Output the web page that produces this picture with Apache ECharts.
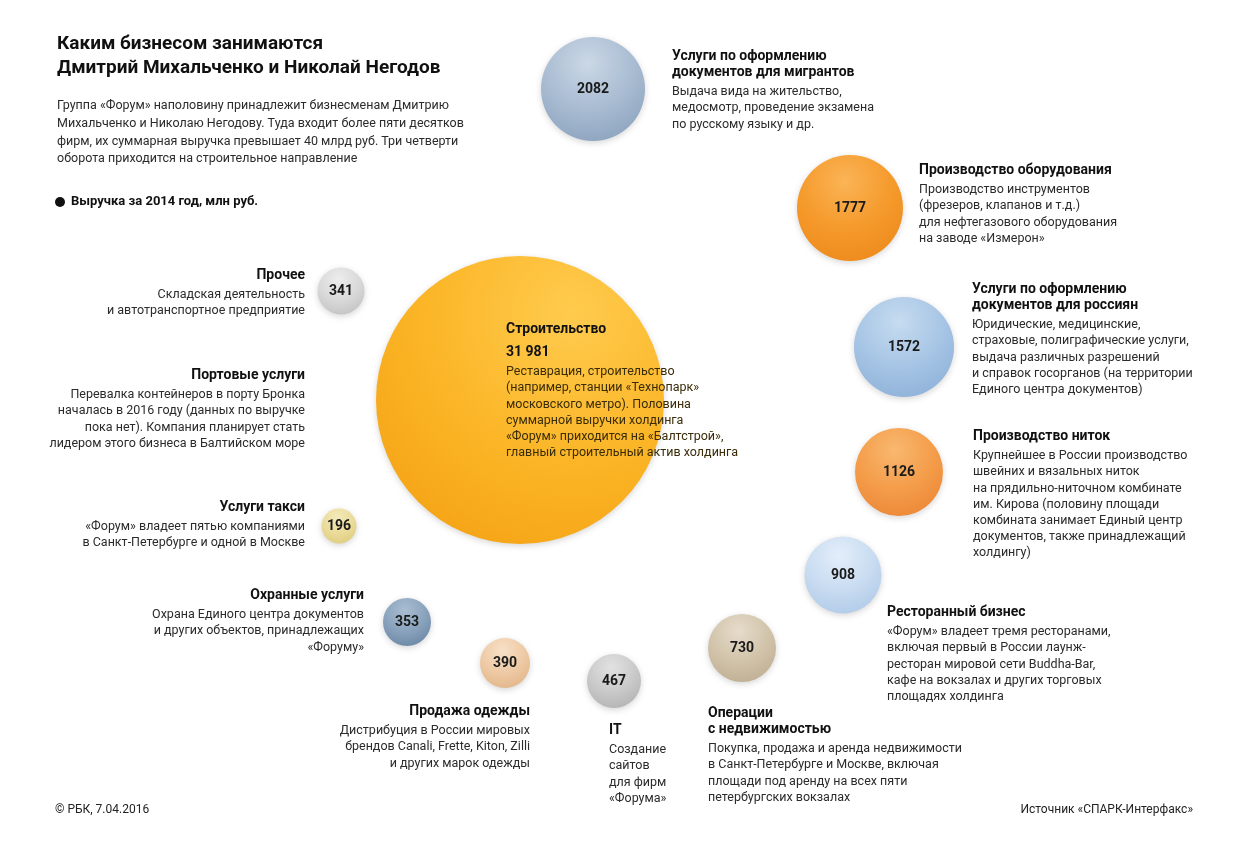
<!DOCTYPE html>
<html><head><meta charset="utf-8">
<script src="https://cdn.jsdelivr.net/npm/echarts@6/dist/echarts.min.js"></script>
<style>html,body{margin:0;padding:0;background:#fff}#c{width:1250px;height:850px}</style>
</head><body><div id="c"></div>
<script>
// ---------- DATA ----------
const categories = ['Строительство','Услуги по оформлению документов для мигрантов','Производство оборудования','Услуги по оформлению документов для россиян','Производство ниток','Ресторанный бизнес','Операции с недвижимостью','IT','Продажа одежды','Охранные услуги','Услуги такси','Прочее'];
const revenue = [31981, 2082, 1777, 1572, 1126, 908, 730, 467, 390, 353, 196, 341];
const headings = [
  ['Строительство'],
  ['Услуги по оформлению','документов для мигрантов'],
  ['Производство оборудования'],
  ['Услуги по оформлению','документов для россиян'],
  ['Производство ниток'],
  ['Ресторанный бизнес'],
  ['Операции','с недвижимостью'],
  ['IT'],
  ['Продажа одежды'],
  ['Охранные услуги'],
  ['Услуги такси'],
  ['Прочее']
];
const descriptions = [
  ['Реставрация, строительство','(например, станции «Технопарк»','московского метро). Половина','суммарной выручки холдинга','«Форум» приходится на «Балтстрой»,','главный строительный актив холдинга'],
  ['Выдача вида на жительство,','медосмотр, проведение экзамена','по русскому языку и др.'],
  ['Производство инструментов','(фрезеров, клапанов и т.д.)','для нефтегазового оборудования','на заводе «Измерон»'],
  ['Юридические, медицинские,','страховые, полиграфические услуги,','выдача различных разрешений','и справок госорганов (на территории','Единого центра документов)'],
  ['Крупнейшее в России производство','швейних и вязальных ниток','на прядильно-ниточном комбинате','им. Кирова (половину площади','комбината занимает Единый центр','документов, также принадлежащий','холдингу)'],
  ['«Форум» владеет тремя ресторанами,','включая первый в России лаунж-','ресторан мировой сети Buddha-Bar,','кафе на вокзалах и других торговых','площадях холдинга'],
  ['Покупка, продажа и аренда недвижимости','в Санкт-Петербурге и Москве, включая','площади под аренду на всех пяти','петербургских вокзалах'],
  ['Создание','сайтов','для фирм','«Форума»'],
  ['Дистрибуция в России мировых','брендов Canali, Frette, Kiton, Zilli','и других марок одежды'],
  ['Охрана Единого центра документов','и других объектов, принадлежащих','«Форуму»'],
  ['«Форум» владеет пятью компаниями','в Санкт-Петербурге и одной в Москве'],
  ['Складская деятельность','и автотранспортное предприятие']
];
const extraHeading = ['Портовые услуги'];
const extraDescription = ['Перевалка контейнеров в порту Бронка','началась в 2016 году (данных по выручке','пока нет). Компания планирует стать','лидером этого бизнеса в Балтийском море'];
const titleLines = ['Каким бизнесом занимаются','Дмитрий Михальченко и Николай Негодов'];
const subtitleLines = ['Группа «Форум» наполовину принадлежит бизнесменам Дмитрию','Михальченко и Николаю Негодову. Туда входит более пяти десятков','фирм, их суммарная выручка превышает 40 млрд руб. Три четверти','оборота приходится на строительное направление'];
const legendText = 'Выручка за 2014 год, млн руб.';
const footerLeft = '© РБК, 7.04.2016';
const footerRight = 'Источник «СПАРК-Интерфакс»';

// ---------- LAYOUT ----------
const bubbleX = [520, 593, 850, 904, 899, 843, 742, 614, 505, 407, 339, 341];
const bubbleY = [400, 89, 208, 347, 472, 575, 648, 681, 663, 622, 526, 291];
const bubbleSize = [288, 104, 106, 100, 88, 77, 68, 54, 50, 48, 35, 47];
const blockX = [506, 672, 919, 972, 973, 887, 708, 609, 530, 364, 305, 305];
const blockY = [329, 56, 170, 289, 436, 612, 713, 730, 711, 595, 507, 275];
const blockAlign = ['left','left','left','left','left','left','left','left','right','right','right','right'];
const extraPos = [305, 375];

// ---------- STYLES ----------
const bubbleColors = [
  ['#ffcb4e','#fbb526','#f4a214'],
  ['#cbd8e6','#a9bcd2','#8da4bf'],
  ['#fbb456','#f59a2c','#ee8a1c'],
  ['#c6dcf0','#a7c5e5','#8fb2d9'],
  ['#f9b870','#f49d4a','#ec8838'],
  ['#e3eefa','#c9dcf1','#b0cbe8'],
  ['#e6dccb','#d2c4ab','#bfae92'],
  ['#e2e2e2','#cacaca','#b3b3b3'],
  ['#f7e0c8','#eecaa5','#e2b68a'],
  ['#a9bdd1','#8aa3bd','#6c88a6'],
  ['#f3eabb','#ebdc9b','#dfcc7f'],
  ['#ededed','#d9d9d9','#c3c3c3']
];
const gradCenter = [[0.68,0.2,0.95]];
const FONT = 'Roboto, "Noto Sans", sans-serif';
const headFont = 'bold 14px ' + FONT;
const bodyFont = '12.5px ' + FONT;

function grad(c, i){
  const g = gradCenter[i] || [0.45,0.25,0.8];
  return {type:'radial', x:g[0], y:g[1], r:g[2], colorStops:[
    {offset:0, color:c[0]},{offset:0.55, color:c[1]},{offset:1, color:c[2]}]};
}

const seriesData = revenue.map((v,i)=>({
  name: categories[i],
  value: [bubbleX[i], bubbleY[i], v],
  symbolSize: bubbleSize[i],
  itemStyle: {color: grad(bubbleColors[i], i)},
  label: {show: i !== 0}
}));

const graphics = [];
function line(x, y, text, font, align, fill){
  graphics.push({type:'text', silent:true, z:100, style:{x:x, y:y, text:text, font:font, fill:fill||'#2b2b2b', align:align||'left', verticalAlign:'middle'}});
}
// Title
titleLines.forEach((t,i)=>line(57, 44 + i*24, t, 'bold 19px ' + FONT, 'left', '#111'));
subtitleLines.forEach((t,i)=>line(57, 106 + i*17.7, t, bodyFont, 'left', '#2b2b2b'));
graphics.push({type:'circle', silent:true, z:100, shape:{cx:60, cy:202, r:5}, style:{fill:'#111'}});
line(71, 202, legendText, 'bold 13px ' + FONT, 'left', '#111');
// Blocks
headings.forEach((h,i)=>{
  const x = blockX[i], a = blockAlign[i];
  let y = blockY[i];
  h.forEach((t,k)=>{ line(x, y, t, headFont, a, '#111'); y += 16; });
  if (i === 0) { line(x, y + 7, revenue[0].toLocaleString('ru-RU').replace(/\s/g,' '), headFont, a, '#111'); y += 23; }
  y += 4;
  descriptions[i].forEach((t,k)=>{ line(x, y, t, bodyFont, a, i === 0 ? '#3a2c08' : '#2b2b2b'); y += 16.2; });
});
// Port services (no revenue data)
line(extraPos[0], extraPos[1], extraHeading[0], headFont, 'right', '#111');
extraDescription.forEach((t,k)=>line(extraPos[0], extraPos[1] + 20 + k*16.2, t, bodyFont, 'right', '#2b2b2b'));
// Footer
line(55, 810, footerLeft, '12px ' + FONT, 'left', '#222');
line(1193, 810, footerRight, '12px ' + FONT, 'right', '#222');

const chart = echarts.init(document.getElementById('c'), null, {renderer:'canvas'});
chart.setOption({
  backgroundColor:'#ffffff',
  animation:false,
  grid:{left:0, right:0, top:0, bottom:0},
  xAxis:{type:'value', min:0, max:1250, show:false},
  yAxis:{type:'value', min:0, max:850, inverse:true, show:false},
  series:[{
    type:'scatter',
    data: seriesData,
    itemStyle:{opacity:1, shadowBlur:6, shadowColor:'rgba(0,0,0,0.16)', shadowOffsetY:2},
    label:{show:true, position:'inside', formatter:p=>String(p.value[2]), fontFamily:FONT, fontWeight:'bold', fontSize:14, color:'#1a1a1a'},
    emphasis:{disabled:true}
  }],
  graphic: graphics
});
</script>
</body></html>
